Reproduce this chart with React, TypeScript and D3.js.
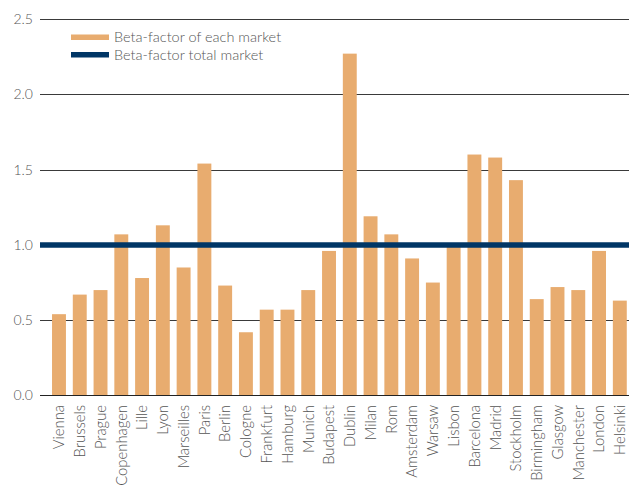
import React from "react";
import * as d3 from "d3";

const categories = ["Vienna","Brussels","Prague","Copenhagen","Lille","Lyon","Marseilles","Paris","Berlin","Cologne","Frankfurt","Hamburg","Munich","Budapest","Dublin","Milan","Rom","Amsterdam","Warsaw","Lisbon","Barcelona","Madrid","Stockholm","Birmingham","Glasgow","Manchester","London","Helsinki"];
const marketBeta = [0.54,0.67,0.70,1.07,0.78,1.13,0.85,1.54,0.73,0.42,0.57,0.57,0.70,0.96,2.27,1.19,1.07,0.91,0.75,0.99,1.60,1.58,1.43,0.64,0.72,0.70,0.96,0.63];
const totalBeta = 1.0;
const yTicks = [0, 0.5, 1.0, 1.5, 2.0, 2.5];
const legendLabels = ["Beta-factor of each market", "Beta-factor total market"];

const W = 631, H = 485;
const FONT = "Lato, 'Open Sans', sans-serif";
const BAR = "#E8AC6F";
const NAVY = "#003666";
const TEXT = "#555555";

export default function App() {
  const y = d3.scaleLinear().domain([0, 2.5]).range([395.5, 19]);
  const x = d3.scaleBand<string>().domain(categories).range([48.6, 630.2]).paddingInner(0).paddingOuter(0);
  const bw = x.bandwidth() * 0.67;
  const gridX1 = 40, gridX2 = 629;
  return (
    <div style={{ position: "absolute", left: 0, top: 0 }}>
      <svg width={W} height={H} style={{ display: "block", fontFamily: FONT, fontWeight: 300 }}>
        <rect width={W} height={H} fill="#fff" />
        {yTicks.map((t) => (
          <g key={t}>
            {t > 0 && (
              <line x1={gridX1} x2={gridX2} y1={Math.round(y(t)) + 0.5} y2={Math.round(y(t)) + 0.5} stroke="#3a3a3a" strokeWidth={1} />
            )}
            <text x={33} y={y(t)} dy="0.35em" textAnchor="end" fontSize={14} fill={TEXT}>
              {t.toFixed(1)}
            </text>
          </g>
        ))}
        {categories.map((c, i) => (
          <rect key={c} x={x(c)! + (x.bandwidth() - bw) / 2} y={y(marketBeta[i])} width={bw} height={y(0) - y(marketBeta[i])} fill={BAR} />
        ))}
        <line x1={gridX1} x2={gridX2} y1={395.5} y2={395.5} stroke="#222" strokeWidth={1.2} />
        <line x1={gridX1} x2={gridX2} y1={y(totalBeta)} y2={y(totalBeta)} stroke={NAVY} strokeWidth={5.5} />
        {categories.map((c) => {
          const cx = x(c)! + x.bandwidth() / 2;
          return (
            <text key={c} transform={`translate(${cx},405) rotate(-90)`} dy="0.36em" textAnchor="end" fontSize={14.8} fill={TEXT}>
              {c}
            </text>
          );
        })}
        <g>
          <rect x={71} y={34.5} width={38} height={5.5} fill={BAR} />
          <text x={114} y={37} dy="0.35em" fontSize={14.5} fill={TEXT}>{legendLabels[0]}</text>
          <rect x={71} y={52} width={38} height={5.5} fill={NAVY} />
          <text x={114} y={55} dy="0.35em" fontSize={14.5} fill={TEXT}>{legendLabels[1]}</text>
        </g>
      </svg>
    </div>
  );
}
